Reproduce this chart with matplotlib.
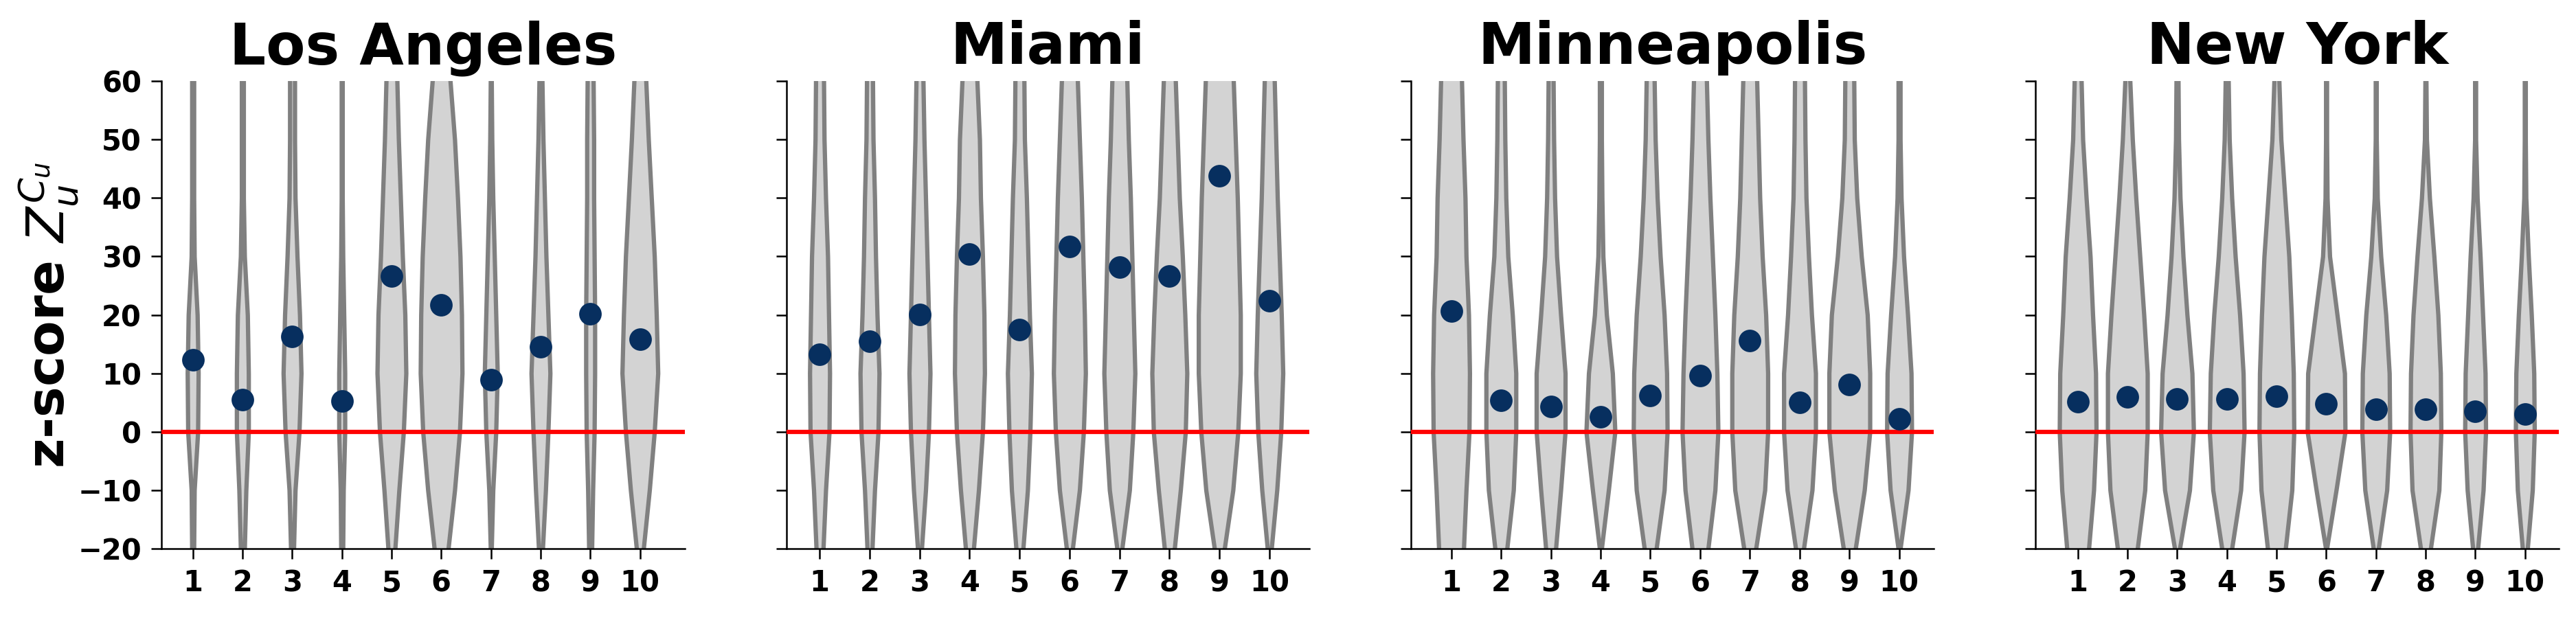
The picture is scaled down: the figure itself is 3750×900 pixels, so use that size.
import numpy as np
import matplotlib
matplotlib.use('Agg')
import matplotlib.pyplot as plt

plt.rcParams['font.family'] = ['DejaVu Sans']

cities = ['Los Angeles', 'Miami', 'Minneapolis', 'New York']
groups = list(range(1, 11))
# z-score levels at which the violin half-widths were read
levels = [-20, -10, 0, 10, 20, 30, 40, 50, 60]

# observed z-score per group (dots)
la_scores = [12.3, 5.5, 16.3, 5.2, 26.7, 21.7, 8.9, 14.6, 20.2, 15.8]
miami_scores = [13.3, 15.5, 20.1, 30.4, 17.5, 31.7, 28.2, 26.6, 43.8, 22.4]
minneapolis_scores = [20.7, 5.4, 4.3, 2.6, 6.2, 9.6, 15.6, 5.0, 8.1, 2.2]
newyork_scores = [5.1, 6.0, 5.6, 5.6, 6.1, 4.8, 3.9, 3.9, 3.5, 3.0]

# violin half-widths (x units) at each level, one row per group
la_widths = [
    [0.02, 0.03, 0.10, 0.11, 0.09, 0.03, 0.02, 0.02, 0.02],
    [0.04, 0.07, 0.12, 0.12, 0.10, 0.04, 0.02, 0.02, 0.02],
    [0.03, 0.06, 0.14, 0.18, 0.15, 0.10, 0.06, 0.05, 0.05],
    [0.02, 0.03, 0.06, 0.06, 0.04, 0.02, 0.01, 0.01, 0.01],
    [0.07, 0.15, 0.24, 0.29, 0.27, 0.22, 0.18, 0.14, 0.11],
    [0.14, 0.27, 0.37, 0.42, 0.41, 0.38, 0.33, 0.27, 0.18],
    [0.01, 0.04, 0.10, 0.13, 0.10, 0.07, 0.04, 0.02, 0.01],
    [0.04, 0.10, 0.15, 0.19, 0.15, 0.11, 0.08, 0.05, 0.03],
    [0.03, 0.05, 0.08, 0.09, 0.09, 0.08, 0.07, 0.07, 0.06],
    [0.07, 0.19, 0.29, 0.36, 0.33, 0.29, 0.23, 0.17, 0.12],
]
miami_widths = [
    [0.07, 0.12, 0.19, 0.20, 0.18, 0.16, 0.12, 0.09, 0.08],
    [0.05, 0.10, 0.17, 0.19, 0.15, 0.12, 0.10, 0.07, 0.06],
    [0.04, 0.12, 0.18, 0.21, 0.18, 0.15, 0.12, 0.09, 0.07],
    [0.08, 0.18, 0.26, 0.30, 0.29, 0.26, 0.22, 0.20, 0.15],
    [0.07, 0.16, 0.21, 0.24, 0.20, 0.17, 0.14, 0.10, 0.09],
    [0.06, 0.20, 0.28, 0.32, 0.30, 0.27, 0.24, 0.20, 0.16],
    [0.05, 0.20, 0.27, 0.31, 0.28, 0.25, 0.22, 0.18, 0.15],
    [0.10, 0.22, 0.32, 0.35, 0.31, 0.26, 0.20, 0.16, 0.12],
    [0.10, 0.27, 0.37, 0.42, 0.42, 0.39, 0.36, 0.32, 0.28],
    [0.04, 0.15, 0.23, 0.27, 0.24, 0.20, 0.16, 0.13, 0.10],
]
minneapolis_widths = [
    [0.25, 0.30, 0.36, 0.37, 0.35, 0.30, 0.28, 0.24, 0.21],
    [0.12, 0.25, 0.30, 0.30, 0.23, 0.14, 0.10, 0.08, 0.07],
    [0.10, 0.20, 0.29, 0.29, 0.20, 0.12, 0.08, 0.06, 0.05],
    [0.02, 0.16, 0.29, 0.24, 0.12, 0.05, 0.03, 0.02, 0.02],
    [0.12, 0.28, 0.34, 0.33, 0.28, 0.20, 0.14, 0.10, 0.08],
    [0.16, 0.30, 0.36, 0.34, 0.30, 0.25, 0.20, 0.16, 0.13],
    [0.12, 0.30, 0.36, 0.36, 0.32, 0.25, 0.20, 0.17, 0.14],
    [0.08, 0.25, 0.32, 0.32, 0.24, 0.18, 0.13, 0.11, 0.10],
    [0.12, 0.30, 0.41, 0.41, 0.36, 0.24, 0.15, 0.10, 0.09],
    [0.02, 0.18, 0.25, 0.24, 0.17, 0.09, 0.04, 0.02, 0.02],
]
newyork_widths = [
    [0.22, 0.32, 0.37, 0.36, 0.30, 0.25, 0.17, 0.10, 0.07],
    [0.20, 0.35, 0.40, 0.40, 0.33, 0.25, 0.17, 0.10, 0.05],
    [0.05, 0.25, 0.33, 0.30, 0.20, 0.12, 0.06, 0.03, 0.02],
    [0.10, 0.28, 0.35, 0.33, 0.26, 0.17, 0.10, 0.05, 0.03],
    [0.18, 0.31, 0.35, 0.34, 0.30, 0.25, 0.17, 0.09, 0.05],
    [0.01, 0.20, 0.38, 0.37, 0.22, 0.07, 0.02, 0.01, 0.01],
    [0.05, 0.22, 0.28, 0.27, 0.20, 0.10, 0.03, 0.01, 0.01],
    [0.10, 0.27, 0.31, 0.30, 0.25, 0.17, 0.08, 0.02, 0.01],
    [0.05, 0.16, 0.21, 0.20, 0.15, 0.10, 0.04, 0.01, 0.01],
    [0.05, 0.15, 0.19, 0.18, 0.13, 0.07, 0.02, 0.01, 0.01],
]

scores = [la_scores, miami_scores, minneapolis_scores, newyork_scores]
widths = [la_widths, miami_widths, minneapolis_widths, newyork_widths]
xlims = [(0.37, 10.9), (0.33, 10.8), (0.19, 10.7), (0.15, 10.68)]


def violin_stats(hw):
    # pad one step past the axis limits so the closing edge gets clipped
    ys = [levels[0] - 2] + levels + [levels[-1] + 2]
    vs = [hw[0]] + list(hw) + [hw[-1]]
    return dict(coords=np.array(ys, float), vals=np.array(vs, float),
                mean=0.0, median=0.0, min=ys[0], max=ys[-1])


fig, axes = plt.subplots(1, 4, figsize=(12.5, 3.0), dpi=300, sharey=True)
fig.subplots_adjust(left=0.0627, right=0.9933, top=0.8687, bottom=0.1123, wspace=0.194)

for ax, city, sc, wd, xl in zip(axes, cities, scores, widths, xlims):
    stats = [violin_stats(hw) for hw in wd]
    parts = ax.violin(stats, positions=groups, widths=[2 * max(hw) for hw in wd],
                      showextrema=False)
    for body in parts['bodies']:
        body.set_facecolor('lightgray')
        body.set_edgecolor('gray')
        body.set_linewidth(1.5)
        body.set_alpha(1)
    ax.axhline(0, color='red', lw=1.5, zorder=3)
    ax.scatter(groups, sc, s=62, color='#072f5f', zorder=4, linewidths=0)
    ax.set_title(city, fontsize=20, fontweight='bold')
    ax.set_xlim(*xl)
    ax.set_ylim(-20, 60)
    ax.set_xticks(groups)
    ax.set_yticks(range(-20, 61, 10))
    ax.tick_params(labelsize=10, width=0.6, length=3.5)
    for lbl in ax.get_xticklabels() + ax.get_yticklabels():
        lbl.set_fontweight('bold')
    for s in ['top', 'right']:
        ax.spines[s].set_visible(False)
    for s in ['left', 'bottom']:
        ax.spines[s].set_linewidth(0.6)

axes[0].set_ylabel('z-score $Z_u^{C_u}$', fontsize=18, fontweight='bold', labelpad=-1)

plt.savefig('out.png')
